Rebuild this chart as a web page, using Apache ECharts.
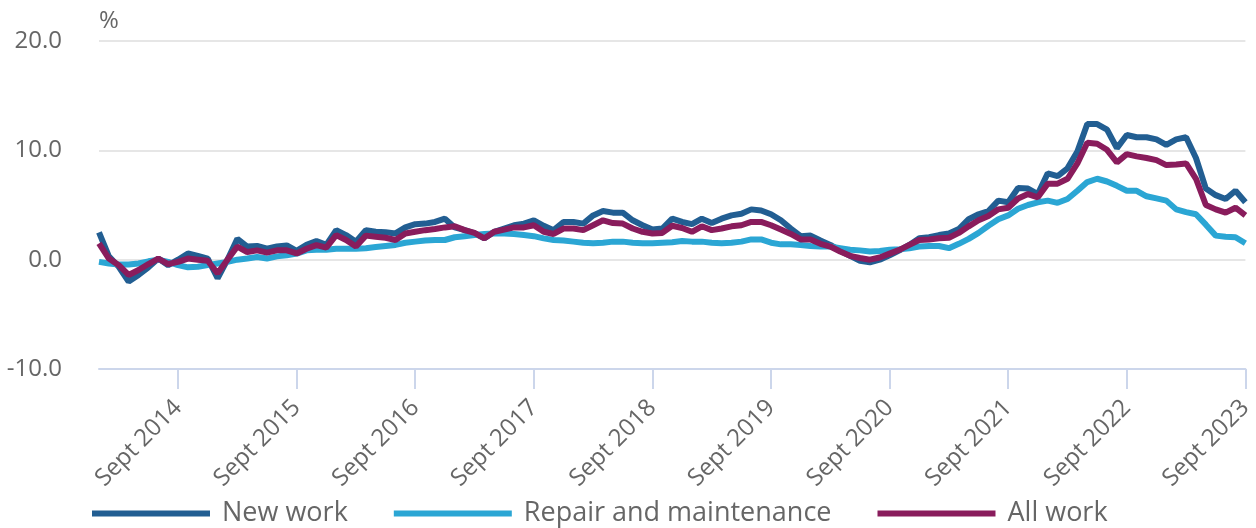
<!DOCTYPE html>
<html>
<head>
<meta charset="utf-8">
<script src="https://cdn.jsdelivr.net/npm/echarts@6/dist/echarts.min.js"></script>
<style>
  html, body { margin: 0; padding: 0; background: #fff; }
  #chart { width: 1256px; height: 528px; }
</style>
</head>
<body>
<div id="chart"></div>
<script>
const MONTHS = ['Jan', 'Feb', 'Mar', 'Apr', 'May', 'Jun', 'Jul', 'Aug', 'Sept', 'Oct', 'Nov', 'Dec'];
const FIRST_YEAR = 2014;

// monthly, Jan 2014 .. Sept 2023
const NEW_WORK = [
    2.5, 0.3, -0.65, -2.0, -1.4, -0.7, 0.1, -0.5, 0.0, 0.57,
    0.35, 0.1, -1.7, 0.0, 1.9, 1.2, 1.25, 1.0, 1.2, 1.3,
    0.8, 1.35, 1.7, 1.35, 2.7, 2.25, 1.65, 2.7, 2.55, 2.5,
    2.4, 2.95, 3.25, 3.3, 3.45, 3.75, 2.95, 2.7, 2.4, 1.95,
    2.55, 2.85, 3.15, 3.3, 3.6, 3.1, 2.7, 3.45, 3.45, 3.3,
    4.05, 4.45, 4.3, 4.3, 3.6, 3.15, 2.75, 2.85, 3.75, 3.45,
    3.25, 3.75, 3.35, 3.75, 4.05, 4.2, 4.6, 4.5, 4.15, 3.6,
    2.85, 2.15, 2.2, 1.75, 1.35, 0.8, 0.35, -0.1, -0.25, 0.0,
    0.4, 0.85, 1.35, 1.95, 2.05, 2.25, 2.4, 2.8, 3.7, 4.15,
    4.45, 5.4, 5.25, 6.55, 6.5, 6.0, 7.9, 7.65, 8.35, 9.9,
    12.4, 12.4, 11.9, 10.2, 11.4, 11.2, 11.2, 11.0, 10.5, 11.0,
    11.2, 9.3, 6.5, 5.9, 5.55, 6.3, 5.25
];

const REPAIR = [
    -0.2, -0.35, -0.45, -0.45, -0.35, -0.15, 0.0, -0.2, -0.5, -0.7,
    -0.65, -0.5, -0.35, -0.2, 0.0, 0.1, 0.25, 0.1, 0.3, 0.4,
    0.55, 0.85, 0.9, 0.9, 1.0, 1.0, 1.0, 1.05, 1.15, 1.25,
    1.35, 1.55, 1.65, 1.75, 1.8, 1.8, 2.05, 2.15, 2.25, 2.35,
    2.4, 2.4, 2.35, 2.25, 2.15, 1.95, 1.8, 1.75, 1.65, 1.55,
    1.5, 1.55, 1.65, 1.65, 1.55, 1.5, 1.5, 1.55, 1.6, 1.7,
    1.65, 1.65, 1.55, 1.5, 1.55, 1.65, 1.85, 1.85, 1.55, 1.4,
    1.4, 1.35, 1.25, 1.2, 1.2, 1.05, 0.9, 0.85, 0.75, 0.8,
    0.9, 0.95, 1.05, 1.2, 1.25, 1.25, 1.05, 1.45, 1.9, 2.45,
    3.1, 3.7, 4.05, 4.65, 5.0, 5.25, 5.4, 5.2, 5.55, 6.3,
    7.1, 7.4, 7.15, 6.75, 6.3, 6.3, 5.8, 5.6, 5.4, 4.6,
    4.35, 4.15, 3.2, 2.2, 2.1, 2.05, 1.5
];

const ALL_WORK = [
    1.5, 0.1, -0.5, -1.4, -0.95, -0.4, 0.1, -0.4, -0.2, 0.1,
    0.0, -0.1, -1.25, 0.0, 1.2, 0.7, 0.85, 0.65, 0.85, 0.85,
    0.57, 1.0, 1.33, 1.1, 2.25, 1.8, 1.2, 2.2, 2.1, 2.0,
    1.8, 2.4, 2.55, 2.7, 2.8, 2.95, 3.05, 2.7, 2.45, 1.95,
    2.55, 2.75, 2.95, 2.95, 3.15, 2.55, 2.35, 2.85, 2.85, 2.7,
    3.15, 3.6, 3.35, 3.3, 2.85, 2.55, 2.4, 2.45, 3.1, 2.9,
    2.55, 3.05, 2.7, 2.85, 3.05, 3.15, 3.45, 3.45, 3.15, 2.75,
    2.35, 1.85, 1.85, 1.45, 1.2, 0.75, 0.35, 0.15, 0.0, 0.2,
    0.55, 0.9, 1.35, 1.8, 1.85, 1.95, 2.0, 2.45, 3.05, 3.6,
    4.0, 4.6, 4.75, 5.6, 6.0, 5.7, 6.95, 6.95, 7.4, 8.8,
    10.7, 10.6, 10.05, 8.9, 9.65, 9.45, 9.3, 9.1, 8.65, 8.7,
    8.8, 7.4, 5.0, 4.6, 4.3, 4.75, 4.05
];

const CATEGORIES = NEW_WORK.map((_, i) =>
    MONTHS[i % 12] + ' ' + (FIRST_YEAR + Math.floor(i / 12)));

const Y_TICKS = [-10, 0, 10, 20];

const FONT = '"Open Sans", "Noto Sans", sans-serif';
const TEXT_COLOR = '#666666';

const isSept = (idx) => idx % 12 === 8;

const chart = echarts.init(document.getElementById('chart'));

chart.setOption({
    animation: false,
    textStyle: { fontFamily: FONT },
    color: ['#225e92', '#2ba6d4', '#891c5c'],
    grid: {
        left: 99,
        right: 8,
        top: 41,
        bottom: 159
    },
    legend: {
        left: 92,
        top: 500,
        padding: 0,
        itemWidth: 118,
        itemHeight: 6,
        itemGap: 46,
        icon: 'rect',
        textStyle: {
            fontSize: 27,
            color: TEXT_COLOR,
            fontFamily: FONT,
            padding: [0, 0, 0, 7]
        },
        data: ['New work', 'Repair and maintenance', 'All work']
    },
    xAxis: {
        type: 'category',
        data: CATEGORIES,
        boundaryGap: false,
        axisLine: {
            onZero: false,
            lineStyle: { color: '#ccd6eb', width: 2 }
        },
        axisTick: {
            interval: isSept,
            length: 20,
            lineStyle: { color: '#ccd6eb', width: 2 }
        },
        axisLabel: {
            interval: isSept,
            rotate: 45,
            margin: 35,
            fontSize: 24,
            color: TEXT_COLOR,
            fontFamily: FONT
        },
        splitLine: { show: false }
    },
    yAxis: {
        type: 'value',
        min: Y_TICKS[0],
        max: Y_TICKS[Y_TICKS.length - 1],
        interval: 10,
        name: '%',
        nameLocation: 'end',
        nameGap: 8,
        nameTextStyle: {
            align: 'left',
            fontSize: 24,
            color: TEXT_COLOR,
            fontFamily: FONT
        },
        axisLine: { show: false },
        axisTick: { show: false },
        axisLabel: {
            margin: 37,
            fontSize: 24,
            color: TEXT_COLOR,
            fontFamily: FONT,
            formatter: (v) => v.toFixed(1)
        },
        splitLine: {
            lineStyle: { color: '#e6e6e6', width: 2 }
        }
    },
    series: [
        {
            name: 'New work',
            type: 'line',
            data: NEW_WORK,
            symbol: 'none',
            lineStyle: { width: 6 }
        },
        {
            name: 'Repair and maintenance',
            type: 'line',
            data: REPAIR,
            symbol: 'none',
            lineStyle: { width: 6 }
        },
        {
            name: 'All work',
            type: 'line',
            data: ALL_WORK,
            symbol: 'none',
            lineStyle: { width: 6 }
        }
    ]
});
</script>
</body>
</html>
